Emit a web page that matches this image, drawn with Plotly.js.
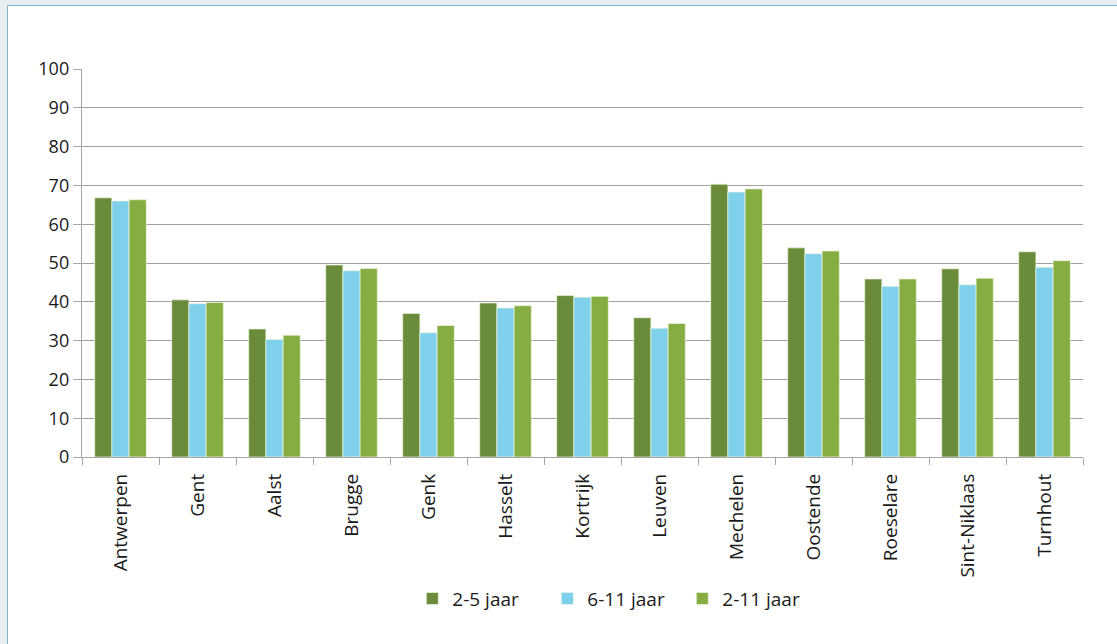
<!DOCTYPE html>
<html><head><meta charset="utf-8">
<script src="https://cdn.plot.ly/plotly-3.0.1.min.js"></script>
<style>
html,body{margin:0;padding:0;background:#e9eef1;width:1117px;height:644px;overflow:hidden;}
#wrap{position:absolute;left:7px;top:5px;width:1110px;height:639px;background:#fff;border-left:1px solid #86b4ca;border-top:1px solid #86b4ca;}
#chart{width:1110px;height:639px;}
</style></head>
<body><div id="wrap"><div id="chart"></div></div>
<script>
const categories = ["Antwerpen","Gent","Aalst","Brugge","Genk","Hasselt","Kortrijk","Leuven","Mechelen","Oostende","Roeselare","Sint-Niklaas","Turnhout"];
const seriesNames = ["2-5 jaar","6-11 jaar","2-11 jaar"];
const age2to5  = [66.8,40.5,33.0,49.5,37.0,39.7,41.6,35.9,70.3,53.9,45.9,48.5,52.9];
const age6to11 = [66.0,39.5,30.3,48.0,32.0,38.4,41.2,33.2,68.3,52.4,44.0,44.4,48.9];
const age2to11 = [66.3,39.8,31.4,48.6,33.9,39.0,41.4,34.4,69.1,53.1,45.9,46.1,50.6];
const yTicks = [0,10,20,30,40,50,60,70,80,90,100];

const colors = ["#6a8c3a","#7ed0eb","#86ad42"];
const values = [age2to5, age6to11, age2to11];
const traces = values.map((v,i)=>({
  type:'bar', x:categories, y:v, name:seriesNames[i],
  marker:{color:colors[i], line:{color:'rgba(235,245,225,0.9)', width:0.8}},
  hoverinfo:'x+y'
}));
const fontFam = '"Open Sans", "Noto Sans", sans-serif';
const layout = {
  width:1110, height:639,
  margin:{l:74, r:35, t:63, b:188},
  paper_bgcolor:'#ffffff', plot_bgcolor:'#ffffff',
  font:{family:fontFam, size:16, color:'#1a1a1a'},
  barmode:'group', bargap:0.33, bargroupgap:0,
  showlegend:true,
  legend:{orientation:'h', x:0.330, xanchor:'left', y:-0.365, yanchor:'middle',
          font:{size:19, color:'#1a1a1a'}, itemwidth:30, entrywidth:90, tracegroupgap:0},
  xaxis:{type:'category', tickangle:-90, tickson:'boundaries', ticks:'outside', ticklen:7,
         tickcolor:'#a6a6a6', showline:true, linecolor:'#a6a6a6', linewidth:1.2,
         ticklabelstandoff:8,
         showgrid:false, tickfont:{size:19, color:'#1a1a1a'}, automargin:false},
  yaxis:{range:[0,100], tickvals:yTicks, ticks:'outside', ticklen:8, tickcolor:'#a6a6a6',
         showline:true, linecolor:'#a6a6a6', linewidth:1.2, showgrid:true, gridcolor:'#a0a0a0',
         gridwidth:1, zeroline:false, tickfont:{size:18, color:'#1a1a1a'}, automargin:false}
};
Plotly.newPlot('chart', traces, layout, {displayModeBar:false, staticPlot:true});
</script></body></html>
